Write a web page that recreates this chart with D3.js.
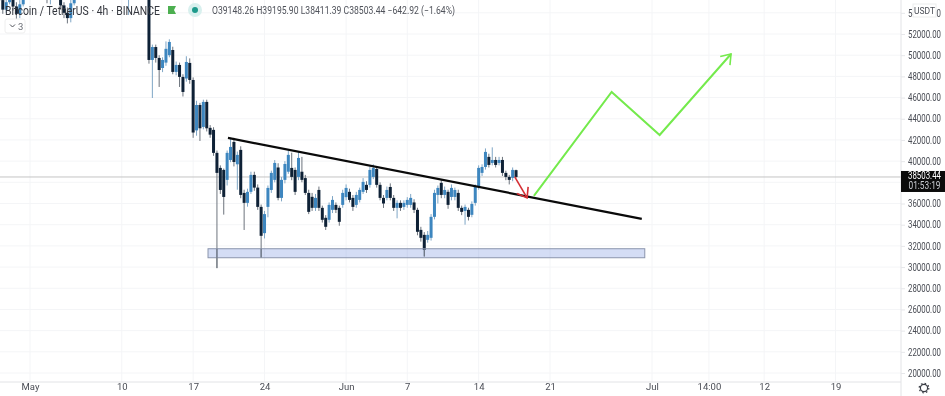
<!DOCTYPE html>
<html>
<head>
<meta charset="utf-8">
<style>
  html, body { margin: 0; padding: 0; background: #fff; overflow: hidden; }
  svg { display: block; font-family: Roboto, "Liberation Sans", sans-serif; }
</style>
</head>
<body>
<div id="svganchor"></div>
<script src="https://cdn.jsdelivr.net/npm/d3@7"></script>
<script>
// 8 hour steps, first candle at candleStart
const candleStart = "2021-04-28T00:00Z";
const candleHours = 8;

const opens = [
  56000,55200,54300,55000,55800,54600,53900,54800,55900,56600,57200,56900,57400,56500,55900,55300,
  55800,56500,55600,54700,54000,53500,54900,56200,57000,57800,57300,58100,58400,57900,58300,57800,
  57200,57700,57100,56500,56900,56200,55700,56300,56600,56000,56400,55800,56200,49550,50770,49740,
  48790,49300,50000,50490,48420,49080,47950,47800,49270,47660,42900,45300,43230,45590,43140,42950,
  40780,39360,39170,38230,40110,41810,39700,41060,37000,36060,37100,38700,37500,35680,33200,35680,
  37280,38230,39400,36530,38230,39000,39360,39170,38510,39000,38400,37000,36630,35590,37280,35590,
  34650,34460,35400,35870,35590,35870,36600,37100,36530,35870,36340,37100,37760,37760,38510,39260,
  37760,36530,36530,37560,36530,35590,36060,35680,35870,35870,36100,35400,33510,33040,32570,32760,
  34740,36810,37950,36810,37100,36620,36620,37000,35590,35300,35400,34930,36060,37560,38890,39450,
  40400,39830,40110,39830,40110,38890,38510,38420,39148.26
];
const highs = [
  56500,55600,55400,56200,56000,55000,55200,56300,57000,57600,57800,57900,57700,56800,56200,56100,
  56800,56900,55900,55000,54500,55300,56600,57400,58200,58300,58500,58900,58700,58600,58600,58100,
  58000,57900,57400,57200,57100,56500,56600,57000,56800,56700,56600,56500,56400,51000,51000,50000,
  49800,51300,51500,50800,49400,49300,48200,49900,49700,47900,45700,45500,45800,45800,43400,43200,
  41000,39600,39300,41000,42200,42200,40900,41400,37300,37400,39000,39000,37800,35900,35300,37700,
  39100,40100,39800,38500,40000,41000,40800,39400,40900,40400,38700,37300,37000,36900,37600,35800,
  34900,36100,36700,36100,35800,37300,37800,37400,36800,37100,37500,38400,38100,39500,39700,39500,
  38000,36800,37600,37900,36800,36300,36300,36300,36600,36900,36400,35600,33800,33300,33400,35000,
  37300,37700,38300,37600,37300,37800,37500,37300,35800,35900,35600,36200,37800,39600,39700,41200,
  40700,41300,40400,40400,40400,39100,38700,39400,39195.90
];
const lows = [
  54800,53900,54000,54800,54200,53400,53500,54600,55600,56300,56500,56600,56000,55500,54900,54800,
  55500,55300,54300,53500,53000,53100,54700,56000,56800,57000,57100,57900,57500,57600,57500,56900,
  56900,56700,56200,56200,55900,55400,53800,56000,55700,55700,55500,55300,49200,45960,49300,47000,
  48400,49000,49800,48200,48100,47000,46100,47500,47300,42200,42400,41900,43000,42800,42200,40500,
  29900,36900,34950,37700,39900,39500,37300,36500,33500,35700,36900,37200,35400,30900,32700,34700,
  37000,38000,36300,36200,37900,38800,38200,36800,38200,38000,36800,35000,35300,35300,35300,34200,
  33500,34200,35100,35100,33900,35600,36300,36100,35300,35600,36100,36900,37000,37500,38300,37500,
  36300,35580,36300,36300,35300,34600,35300,35400,35600,35600,35100,33000,32400,31000,32300,32500,
  34500,36000,36500,36500,35500,36300,36300,35300,34900,34000,34400,34700,35800,37300,38600,39200,
  39400,39600,39400,39600,38600,38200,37800,38100,38411.39
];
const closes = [
  55200,54300,55000,55800,54600,53900,54800,55900,56600,57200,56900,57400,56500,55900,55300,55800,
  56500,55600,54700,54000,53500,54900,56200,57000,57800,57300,58100,58400,57900,58300,57800,57200,
  57700,57100,56500,56900,56200,55700,56300,56600,56000,56400,55800,56200,49550,50770,49740,48600,
  49550,50600,51250,48420,49080,47950,46530,49360,47660,42700,45300,43100,45590,43100,42500,40780,
  38890,37280,36620,40780,41340,39920,40590,36810,36060,37100,38700,37500,35680,32950,35000,37470,
  38890,39830,36530,38230,39730,40590,38510,37100,40300,38230,37000,35210,35590,36530,35590,34460,
  33800,35870,36340,35400,34270,37000,37470,36340,35680,36810,37280,38040,37280,39170,39360,37760,
  36530,36000,37280,36530,35590,36060,35590,36060,36340,36530,35400,33330,32760,31630,33040,34740,
  37000,37470,36810,37280,35870,37470,37280,35590,35210,35680,34740,35960,37560,39360,39450,40870,
  39640,40110,39640,40110,38890,38510,38230,39170,38503.44
];

const priceTicks = [54000,52000,50000,48000,46000,44000,42000,40000,38000,36000,34000,32000,30000,28000,26000,24000,22000,20000];
const timeTicks = ["2021-05-01","2021-05-10","2021-05-17","2021-05-24","2021-06-01","2021-06-07","2021-06-14","2021-06-21","2021-07-01","2021-07-06T14:00","2021-07-12","2021-07-19"];
const timeLabels = ["May","10","17","24","Jun","7","14","21","Jul","14:00","12","19"];

// drawings on top of the candles
const trendTimes = ["2021-05-20T10:00","2021-06-30T00:00"];
const trendPrices = [42190,34550];
const zoneTimes = ["2021-05-18T11:00","2021-06-30T07:00"];
const zonePrices = [31730,30880];
const dropTimes = ["2021-06-17T13:00","2021-06-18T18:00"];
const dropPrices = [38510,36530];
const pathTimes = ["2021-06-19T10:00","2021-06-27T01:00","2021-07-01T18:00","2021-07-08T18:00"];
const pathPrices = [36720,46530,42470,50110];

const lastPrice = 38503.44;
const countdown = "01:53:19";
const legendTitle = "Bitcoin / TetherUS · 4h · BINANCE";
const legendValues = "O39148.26 H39195.90 L38411.39 C38503.44 −642.92 (−1.64%)";

const width = 945;
const height = 396;
const paneRight = 901;
const paneBottom = 382;

const parseT = (s) => new Date(s.length === 10 ? s + "T00:00Z" : s.replace(/Z?$/, "Z"));

const x = d3.scaleUtc()
  .domain([parseT("2021-05-01"), parseT("2021-07-01")])
  .range([30, 652]);

const y = d3.scaleLinear()
  .domain([20000, 52000])
  .range([373, 34]);

const svg = d3.select("#svganchor")
  .append("svg")
  .attr("width", width)
  .attr("height", height)
  .style("filter", "blur(0.45px)");

const defs = svg.append("defs");
defs.append("clipPath").attr("id", "pane")
  .append("rect")
  .attr("width", paneRight)
  .attr("height", paneBottom);

function arrowHead(id, color) {
  defs.append("marker")
    .attr("id", id)
    .attr("viewBox", "-12 -8 14 16")
    .attr("refX", 0)
    .attr("refY", 0)
    .attr("markerUnits", "userSpaceOnUse")
    .attr("markerWidth", 14)
    .attr("markerHeight", 16)
    .attr("orient", "auto")
    .append("path")
    .attr("d", "M-9,-6.5L0,0L-9,6.5")
    .attr("fill", "none")
    .attr("stroke", color)
    .attr("stroke-width", 1.6);
}
arrowHead("headRed", "#d42f35");
arrowHead("headGreen", "#74ea4c");

/*
------------------------------
grid
------------------------------
*/
const grid = svg.append("g");
grid.selectAll("line.h")
  .data(priceTicks)
  .enter()
  .append("line")
  .attr("x1", 0)
  .attr("x2", paneRight)
  .attr("y1", (d) => y(d))
  .attr("y2", (d) => y(d))
  .attr("stroke", "#f4f5f7");
grid.selectAll("line.v")
  .data(timeTicks)
  .enter()
  .append("line")
  .attr("x1", (d) => x(parseT(d)))
  .attr("x2", (d) => x(parseT(d)))
  .attr("y1", 0)
  .attr("y2", paneBottom)
  .attr("stroke", "#f4f5f7");

const pane = svg.append("g").attr("clip-path", "url(#pane)");

// last price line
pane.append("line")
  .attr("x1", 0)
  .attr("x2", paneRight)
  .attr("y1", y(lastPrice))
  .attr("y2", y(lastPrice))
  .attr("stroke", "#c4c4c4")
  .attr("stroke-width", 1);

/*
------------------------------
candles
------------------------------
*/
const candles = opens.map((o, i) => ({
  t: d3.utcHour.offset(parseT(candleStart), i * candleHours),
  o: o,
  h: highs[i],
  l: lows[i],
  c: closes[i],
}));

const candle = pane.selectAll("g.candle")
  .data(candles)
  .enter()
  .append("g")
  .attr("class", "candle");

candle.append("line")
  .attr("x1", (d) => x(d.t))
  .attr("x2", (d) => x(d.t))
  .attr("y1", (d) => y(d.h))
  .attr("y2", (d) => y(d.l))
  .attr("stroke", (d) => (d.c >= d.o ? "#7fa6c6" : "#6d747d"))
  .attr("stroke-width", 1);

candle.append("rect")
  .attr("x", (d) => x(d.t) - 1.5)
  .attr("width", 3)
  .attr("y", (d) => y(Math.max(d.o, d.c)))
  .attr("height", (d) => Math.max(1, Math.abs(y(d.o) - y(d.c))))
  .attr("fill", (d) => (d.c >= d.o ? "#3d86bf" : "#0e2136"));

/*
------------------------------
drawings
------------------------------
*/
pane.append("rect")
  .attr("x", x(parseT(zoneTimes[0])))
  .attr("width", x(parseT(zoneTimes[1])) - x(parseT(zoneTimes[0])))
  .attr("y", y(zonePrices[0]))
  .attr("height", y(zonePrices[1]) - y(zonePrices[0]))
  .attr("fill", "#3b63d0")
  .attr("fill-opacity", 0.22)
  .attr("stroke", "#8b95ad")
  .attr("stroke-width", 1);

// the long wicks run over the zone in the picture
pane.selectAll("line.wick")
  .data(candles.filter((d) => d.l < zonePrices[0]))
  .enter()
  .append("line")
  .attr("x1", (d) => x(d.t))
  .attr("x2", (d) => x(d.t))
  .attr("y1", y(zonePrices[0]))
  .attr("y2", (d) => y(d.l))
  .attr("stroke", "#6d747d");

const drawLine = d3.line()
  .x((d) => x(parseT(d[0])))
  .y((d) => y(d[1]));

pane.append("path")
  .attr("d", drawLine(d3.zip(trendTimes, trendPrices)))
  .attr("fill", "none")
  .attr("stroke", "#0a0a0a")
  .attr("stroke-width", 2.2);

pane.append("path")
  .attr("d", drawLine(d3.zip(dropTimes, dropPrices)))
  .attr("fill", "none")
  .attr("stroke", "#d42f35")
  .attr("stroke-width", 1.6)
  .attr("marker-end", "url(#headRed)");

pane.append("path")
  .attr("d", drawLine(d3.zip(pathTimes, pathPrices)))
  .attr("fill", "none")
  .attr("stroke", "#74ea4c")
  .attr("stroke-width", 2)
  .attr("stroke-linejoin", "miter")
  .attr("marker-end", "url(#headGreen)");

/*
------------------------------
axes
------------------------------
*/
const yAxis = svg.append("g")
  .attr("transform", "translate(" + paneRight + ",0)")
  .call(d3.axisRight(y)
    .tickValues(priceTicks)
    .tickFormat(d3.format(".2f"))
    .tickSize(4)
    .tickPadding(3));
yAxis.select(".domain").attr("stroke", "#e2e3e6").attr("d", "M0,0V" + height);
yAxis.selectAll(".tick line").attr("stroke", "#e6e7ea");
yAxis.selectAll(".tick text")
  .attr("fill", "#4a4d55")
  .attr("textLength", 33)
  .attr("lengthAdjust", "spacingAndGlyphs")
  .style("font-family", "Roboto, sans-serif")
  .style("font-size", "10px");

const xAxis = svg.append("g")
  .attr("transform", "translate(0," + paneBottom + ")")
  .call(d3.axisBottom(x)
    .tickValues(timeTicks.map(parseT))
    .tickFormat((d, i) => timeLabels[i])
    .tickSize(0)
    .tickPadding(1));
xAxis.select(".domain").attr("stroke", "#e2e3e6").attr("d", "M0,0H" + paneRight);
xAxis.selectAll(".tick text")
  .attr("fill", "#4a4d55")
  .style("font-family", "Roboto, sans-serif")
  .style("font-size", "9.5px");

// price tag
const tag = svg.append("g");
tag.append("rect")
  .attr("x", paneRight)
  .attr("y", y(lastPrice) - 6)
  .attr("width", width - paneRight)
  .attr("height", 21)
  .attr("fill", "#0b0b0b");
tag.append("text")
  .attr("x", 924.5)
  .attr("y", y(lastPrice) + 2.5)
  .attr("text-anchor", "middle")
  .attr("fill", "#ffffff")
  .attr("textLength", 33)
  .attr("lengthAdjust", "spacingAndGlyphs")
  .style("font-size", "10px")
  .text(d3.format(".2f")(lastPrice));
tag.append("text")
  .attr("x", 924.5)
  .attr("y", y(lastPrice) + 12.5)
  .attr("text-anchor", "middle")
  .attr("fill", "#c9ccd1")
  .attr("textLength", 32)
  .attr("lengthAdjust", "spacingAndGlyphs")
  .style("font-size", "10px")
  .text(countdown);

// currency box over the top tick
svg.append("rect")
  .attr("x", 913)
  .attr("y", 4)
  .attr("width", 23)
  .attr("height", 13)
  .attr("fill", "#fff")
  .attr("stroke", "#eceded");
svg.append("text")
  .attr("x", 924.5)
  .attr("y", 13.5)
  .attr("text-anchor", "middle")
  .attr("fill", "#4a4d55")
  .style("font-size", "8.5px")
  .text("USDT");

// settings icon
const gear = svg.append("g").attr("transform", "translate(924,388)");
gear.append("circle").attr("r", 3.6).attr("fill", "none").attr("stroke", "#3a3d45").attr("stroke-width", 1.2);
gear.append("circle").attr("r", 4.8).attr("fill", "none").attr("stroke", "#3a3d45").attr("stroke-width", 1.2).attr("stroke-dasharray", "1.6 2.17");

/*
------------------------------
legend
------------------------------
*/
svg.append("text")
  .attr("x", 5)
  .attr("y", 14.5)
  .attr("fill", "#33363d")
  .attr("textLength", 155)
  .attr("lengthAdjust", "spacingAndGlyphs")
  .style("font-size", "12.5px")
  .text(legendTitle);

svg.append("path")
  .attr("d", "M168,6H176L174,10L176,14H168Z")
  .attr("fill", "#4caf50");

svg.append("circle").attr("cx", 195).attr("cy", 10).attr("r", 7).attr("fill", "#d8f0ee");
svg.append("circle").attr("cx", 195).attr("cy", 10).attr("r", 3).attr("fill", "#1d9a8c");

svg.append("text")
  .attr("x", 212)
  .attr("y", 14)
  .attr("fill", "#50535b")
  .attr("textLength", 243)
  .attr("lengthAdjust", "spacingAndGlyphs")
  .style("font-size", "10.5px")
  .text(legendValues);

const toggle = svg.append("g");
toggle.append("rect")
  .attr("x", 5)
  .attr("y", 19)
  .attr("width", 20)
  .attr("height", 14)
  .attr("rx", 2)
  .attr("fill", "#fff")
  .attr("stroke", "#eeeeee");
toggle.append("path")
  .attr("d", "M10,24.5L12.5,27L15,24.5")
  .attr("fill", "none")
  .attr("stroke", "#50535b");
toggle.append("text")
  .attr("x", 18)
  .attr("y", 30)
  .attr("fill", "#6a6d75")
  .style("font-size", "9.5px")
  .text("3");
</script>
</body>
</html>
